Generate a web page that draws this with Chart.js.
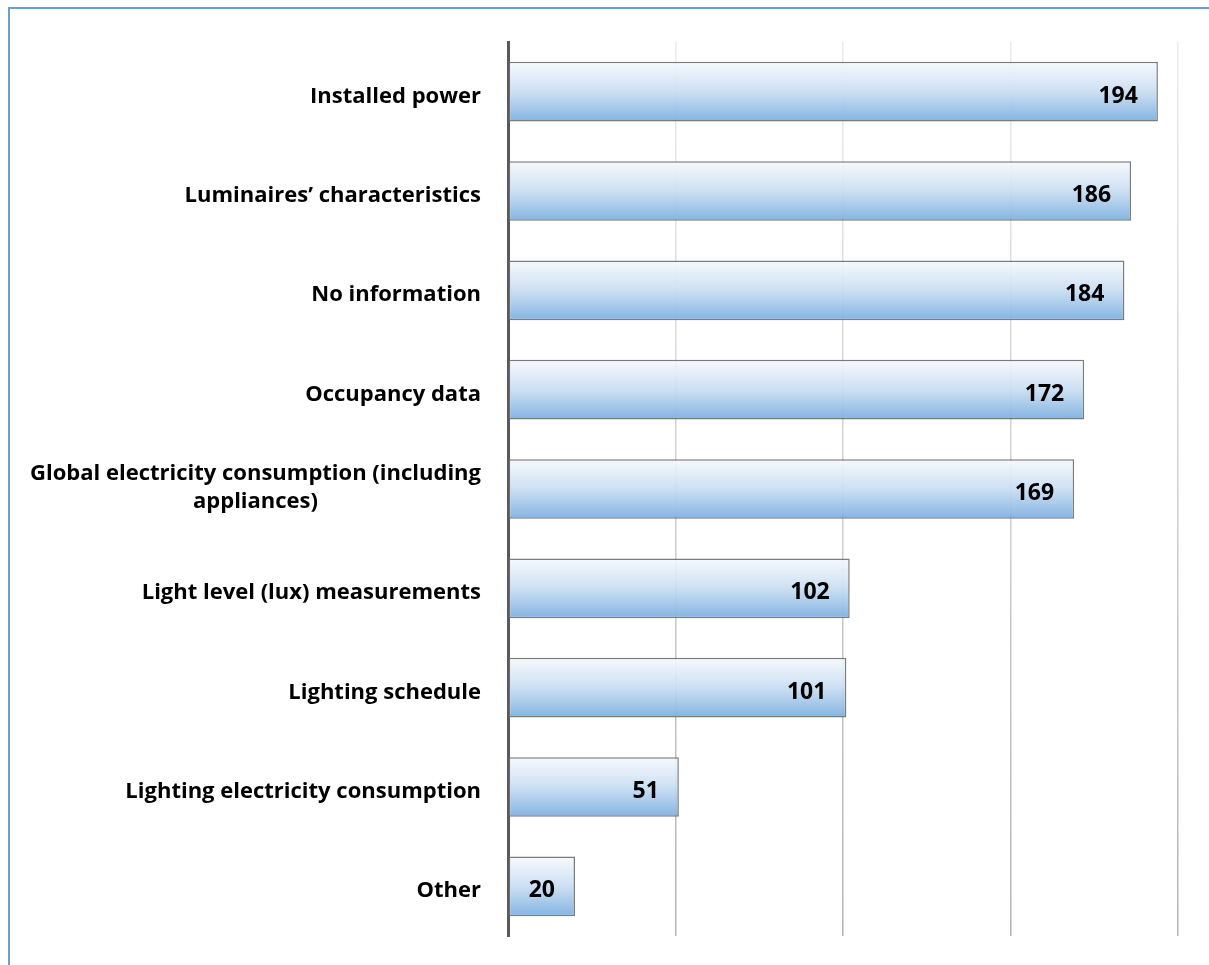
<!DOCTYPE html>
<html>
<head>
<meta charset="utf-8">
<script src="https://cdn.jsdelivr.net/npm/chart.js@4"></script>
<style>
  html, body { margin: 0; padding: 0; background: #ffffff; overflow: hidden; }
  #wrap { position: relative; width: 1209px; height: 965px; }
  #frame { position: absolute; left: 8px; top: 7px; width: 1400px; height: 1200px;
           border-left: 2px solid #6d9dd2; border-top: 2px solid #6d9dd2; }
  #chart { position: absolute; left: 0; top: 0; }
</style>
</head>
<body>
<div id="wrap">
  <div id="frame"></div>
  <canvas id="chart" width="1209" height="965"></canvas>
</div>
<script>
// Information sources reported for lighting assessments (number of responses)
const categories = [
  'Installed power',
  'Luminaires\u2019 characteristics',
  'No information',
  'Occupancy data',
  ['Global electricity consumption (including', 'appliances)'],
  'Light level (lux) measurements',
  'Lighting schedule',
  'Lighting electricity consumption',
  'Other'
];
const responses = [194, 186, 184, 172, 169, 102, 101, 51, 20];
const axisMin = 0;
const axisMax = 200;
const axisStep = 50;

const FONT = '"Open Sans", "Noto Sans", sans-serif';
const LABEL_RIGHT = 481;   // right edge of category labels
const PLOT_LEFT = 508;

// vertical gradient for each bar, following the bar's own band on the category scale
function barFill(ctx) {
  const chart = ctx.chart;
  const area = chart.chartArea;
  const yScale = chart.scales.y;
  if (!area || !yScale) return '#a9cbec';
  const band = area.height / categories.length;
  const h = band * 0.6;
  const cy = yScale.getPixelForValue(ctx.dataIndex);
  const g = chart.ctx.createLinearGradient(0, cy - h / 2, 0, cy + h / 2);
  g.addColorStop(0, 'rgba(246,249,253,0.92)');
  g.addColorStop(0.5, 'rgba(200,221,242,0.92)');
  g.addColorStop(1, 'rgba(124,176,224,0.95)');
  return g;
}

// gridlines fade from pale at the top to mid grey at the bottom
function gridColor(ctx) {
  const chart = ctx.chart;
  const area = chart.chartArea;
  if (!area) return '#d0d0d0';
  const g = chart.ctx.createLinearGradient(0, area.top, 0, area.bottom);
  g.addColorStop(0, '#ececec');
  g.addColorStop(1, '#b4b4b4');
  return g;
}

// category labels: right aligned, wrapped lines centred on their block
const categoryLabels = {
  id: 'categoryLabels',
  afterDraw(chart) {
    const c = chart.ctx;
    const yScale = chart.scales.y;
    c.save();
    c.font = 'bold 22px ' + FONT;
    c.fillStyle = '#000000';
    c.textBaseline = 'alphabetic';
    const lineH = 28;
    categories.forEach((lab, i) => {
      const cy = yScale.getPixelForValue(i);
      const lines = Array.isArray(lab) ? lab : [lab];
      const widest = Math.max(...lines.map(l => c.measureText(l).width));
      const cx = LABEL_RIGHT - widest / 2;
      const y0 = cy + 11 - (lines.length - 1) * 20;
      c.textAlign = lines.length > 1 ? 'center' : 'right';
      lines.forEach((l, k) => {
        c.fillText(l, lines.length > 1 ? cx : LABEL_RIGHT, y0 + k * lineH);
      });
    });
    c.restore();
  }
};

// value labels inside the end of each bar
const valueLabels = {
  id: 'valueLabels',
  afterDatasetsDraw(chart) {
    const c = chart.ctx;
    const meta = chart.getDatasetMeta(0);
    c.save();
    c.font = 'bold 23px ' + FONT;
    c.fillStyle = '#000000';
    c.textAlign = 'right';
    c.textBaseline = 'alphabetic';
    meta.data.forEach((bar, i) => {
      c.fillText(String(responses[i]), bar.x - 20, bar.y + 11);
    });
    c.restore();
  }
};

new Chart(document.getElementById('chart'), {
  type: 'bar',
  data: {
    labels: categories,
    datasets: [{
      data: responses,
      backgroundColor: barFill,
      borderColor: 'rgba(110,110,110,0.9)',
      borderWidth: 1.5,
      borderSkipped: false,
      categoryPercentage: 1.0,
      barPercentage: 0.6
    }]
  },
  options: {
    indexAxis: 'y',
    responsive: false,
    animation: false,
    layout: { padding: { left: 0, top: 42, right: 31, bottom: 29 } },
    plugins: { legend: { display: false }, tooltip: { enabled: false } },
    scales: {
      x: {
        min: axisMin,
        max: axisMax,
        ticks: { display: false, stepSize: axisStep },
        grid: { color: gridColor, lineWidth: 1.5, drawTicks: false },
        border: { display: false },
        afterFit(scale) { scale.height = 0; }
      },
      y: {
        ticks: { display: false },
        grid: { display: false, drawTicks: false },
        border: { display: true, color: '#5a5a5a', width: 3 },
        afterFit(scale) { scale.width = PLOT_LEFT; }
      }
    }
  },
  plugins: [categoryLabels, valueLabels]
});
</script>
</body>
</html>
